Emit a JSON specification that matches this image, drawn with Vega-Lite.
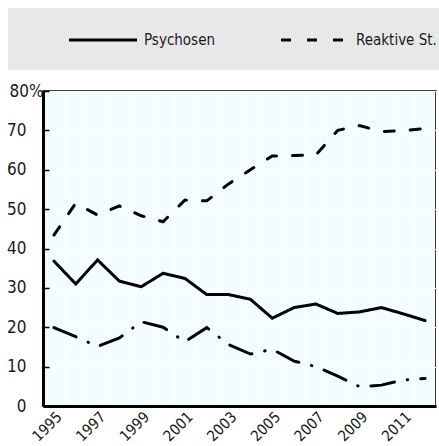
{
  "$schema": "https://vega.github.io/schema/vega-lite/v6.json",
  "width": 393,
  "height": 315,
  "autosize": {"type": "none"},
  "padding": {"left": 43, "top": 91, "right": 3, "bottom": 40},
  "background": "white",
  "config": {
    "font": "'Noto Sans Condensed', 'DejaVu Sans Condensed', sans-serif",
    "view": {"fill": "#f2fefe", "stroke": "black", "strokeWidth": 1.5}
  },
  "data": {
    "values": [
      {"year": 1995, "series": "Psychosen", "value": 36.8},
      {"year": 1996, "series": "Psychosen", "value": 31.0},
      {"year": 1997, "series": "Psychosen", "value": 37.1},
      {"year": 1998, "series": "Psychosen", "value": 31.7},
      {"year": 1999, "series": "Psychosen", "value": 30.3},
      {"year": 2000, "series": "Psychosen", "value": 33.7},
      {"year": 2001, "series": "Psychosen", "value": 32.4},
      {"year": 2002, "series": "Psychosen", "value": 28.3},
      {"year": 2003, "series": "Psychosen", "value": 28.3},
      {"year": 2004, "series": "Psychosen", "value": 27.1},
      {"year": 2005, "series": "Psychosen", "value": 22.3},
      {"year": 2006, "series": "Psychosen", "value": 25.0},
      {"year": 2007, "series": "Psychosen", "value": 25.9},
      {"year": 2008, "series": "Psychosen", "value": 23.5},
      {"year": 2009, "series": "Psychosen", "value": 23.9},
      {"year": 2010, "series": "Psychosen", "value": 25.0},
      {"year": 2011, "series": "Psychosen", "value": 23.4},
      {"year": 2012, "series": "Psychosen", "value": 21.7},
      {"year": 1995, "series": "Reaktive St.", "value": 43.4},
      {"year": 1996, "series": "Reaktive St.", "value": 51.5},
      {"year": 1997, "series": "Reaktive St.", "value": 48.5},
      {"year": 1998, "series": "Reaktive St.", "value": 50.8},
      {"year": 1999, "series": "Reaktive St.", "value": 48.3},
      {"year": 2000, "series": "Reaktive St.", "value": 46.8},
      {"year": 2001, "series": "Reaktive St.", "value": 52.3},
      {"year": 2002, "series": "Reaktive St.", "value": 52.1},
      {"year": 2003, "series": "Reaktive St.", "value": 56.4},
      {"year": 2004, "series": "Reaktive St.", "value": 60.0},
      {"year": 2005, "series": "Reaktive St.", "value": 63.5},
      {"year": 2006, "series": "Reaktive St.", "value": 63.6},
      {"year": 2007, "series": "Reaktive St.", "value": 63.8},
      {"year": 2008, "series": "Reaktive St.", "value": 70.0},
      {"year": 2009, "series": "Reaktive St.", "value": 71.2},
      {"year": 2010, "series": "Reaktive St.", "value": 69.7},
      {"year": 2011, "series": "Reaktive St.", "value": 69.9},
      {"year": 2012, "series": "Reaktive St.", "value": 70.5},
      {"year": 1995, "series": "Sonstige", "value": 19.9},
      {"year": 1996, "series": "Sonstige", "value": 17.6},
      {"year": 1997, "series": "Sonstige", "value": 15.1},
      {"year": 1998, "series": "Sonstige", "value": 17.3},
      {"year": 1999, "series": "Sonstige", "value": 21.4},
      {"year": 2000, "series": "Sonstige", "value": 20.0},
      {"year": 2001, "series": "Sonstige", "value": 16.3},
      {"year": 2002, "series": "Sonstige", "value": 19.9},
      {"year": 2003, "series": "Sonstige", "value": 15.6},
      {"year": 2004, "series": "Sonstige", "value": 13.2},
      {"year": 2005, "series": "Sonstige", "value": 14.4},
      {"year": 2006, "series": "Sonstige", "value": 11.4},
      {"year": 2007, "series": "Sonstige", "value": 10.0},
      {"year": 2008, "series": "Sonstige", "value": 7.6},
      {"year": 2009, "series": "Sonstige", "value": 4.9},
      {"year": 2010, "series": "Sonstige", "value": 5.3},
      {"year": 2011, "series": "Sonstige", "value": 6.6},
      {"year": 2012, "series": "Sonstige", "value": 7.0}
    ]
  },
  "mark": {"type": "line", "strokeWidth": 3, "color": "black", "strokeCap": "round"},
  "encoding": {
    "x": {
      "field": "year",
      "type": "quantitative",
      "scale": {"domain": [1994.5, 2012.5], "nice": false, "zero": false},
      "axis": {
        "title": null,
        "values": [1994.5, 1995, 1995.5, 1996.5, 1997, 1997.5, 1998.5, 1999, 1999.5, 2000.5, 2001, 2001.5, 2002.5, 2003, 2003.5, 2004.5, 2005, 2005.5, 2006.5, 2007, 2007.5, 2008.5, 2009, 2009.5, 2010.5, 2011, 2011.5, 2012.5],
        "labelExpr": "datum.value % 1 == 0 ? '' + datum.value : ''",
        "labelOverlap": false,
        "labelFlush": false,
        "labelAngle": -45,
        "labelFontSize": 15,
        "labelColor": "#1a1a1a",
        "labelPadding": 3,
        "ticks": false,
        "grid": true,
        "gridColor": "white",
        "gridWidth": 1,
        "gridOpacity": {"condition": {"test": "datum.value % 1 != 0", "value": 1}, "value": 0},
        "domainColor": "black",
        "domainWidth": 3
      }
    },
    "y": {
      "field": "value",
      "type": "quantitative",
      "scale": {"domain": [0, 80], "nice": false},
      "axis": {
        "title": null,
        "values": [0, 10, 20, 30, 40, 50, 60, 70, 80],
        "labelExpr": "datum.value == 80 ? '80%' : datum.label",
        "labelAlign": {"condition": {"test": "datum.value == 80", "value": "center"}, "value": "right"},
        "labelFontSize": 17,
        "labelColor": "#1a1a1a",
        "labelPadding": 23,
        "grid": true,
        "gridColor": "white",
        "gridWidth": 1,
        "gridOpacity": 1,
        "tickColor": "black",
        "tickSize": -6,
        "tickWidth": 1.5,
        "domainColor": "black",
        "domainWidth": 3
      }
    },
    "strokeDash": {
      "field": "series",
      "type": "nominal",
      "scale": {
        "domain": ["Psychosen", "Reaktive St.", "Sonstige"],
        "range": [[1, 0], [10, 16], [24, 13, 0.5, 13]]
      },
      "legend": {
        "orient": "none",
        "legendX": -35,
        "legendY": -83,
        "direction": "horizontal",
        "columns": 2,
        "values": ["Psychosen", "Reaktive St."],
        "fillColor": "#e8e8e8",
        "padding": 22,
        "title": " ",
        "titleOrient": "left",
        "titlePadding": 63,
        "titleFontSize": 16,
        "symbolType": "M-4,0H4",
        "symbolSize": 289,
        "symbolStrokeWidth": 3,
        "symbolStrokeColor": "black",
        "symbolFillColor": "transparent",
        "labelFontSize": 15,
        "labelColor": "#1a1a1a",
        "labelOffset": 31,
        "columnPadding": 59,
        "encode": {
          "symbols": {
            "update": {
              "strokeDash": {"signal": "datum.value == 'Reaktive St.' ? [14, 13] : [1, 0]"}
            }
          }
        }
      }
    }
  }
}
